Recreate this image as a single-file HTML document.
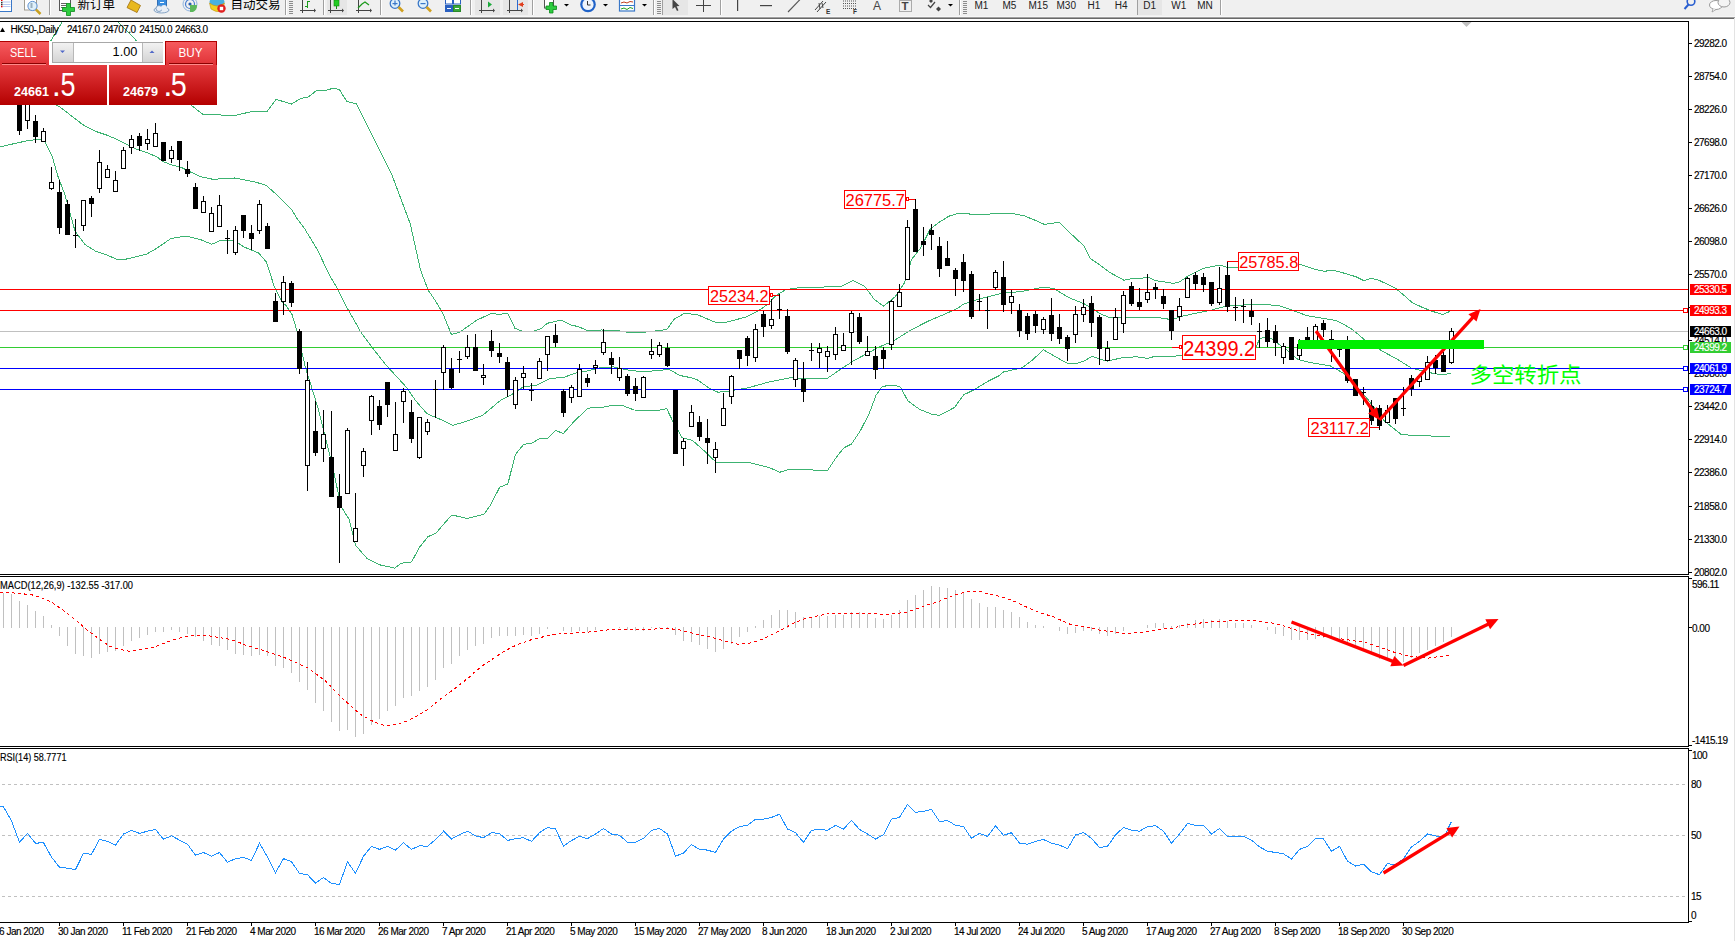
<!DOCTYPE html><html><head><meta charset="utf-8"><title>HK50 Daily</title><style>
html,body{margin:0;padding:0;background:#fff;overflow:hidden}
body{width:1735px;height:941px;position:relative;font-family:'Liberation Sans', 'DejaVu Sans', sans-serif}
.abs{position:absolute}
#tb{left:0;top:0;width:1735px;height:16px;background:#f0f0f0;overflow:hidden}
svg{font-family:'Liberation Sans', 'DejaVu Sans', sans-serif}

</style></head><body>
<div id="tb" class="abs"><svg width="1735" height="16" viewBox="0 0 1735 16" style="position:absolute;left:0;top:0"><rect x="49" y="0" width="1" height="15" fill="#a0a0a0"/><rect x="50" y="0" width="1" height="15" fill="#fff"/>
<rect x="285" y="0" width="1" height="15" fill="#a0a0a0"/><rect x="286" y="0" width="1" height="15" fill="#fff"/>
<rect x="323" y="0" width="1" height="15" fill="#a0a0a0"/><rect x="324" y="0" width="1" height="15" fill="#fff"/>
<rect x="380" y="0" width="1" height="15" fill="#a0a0a0"/><rect x="381" y="0" width="1" height="15" fill="#fff"/>
<rect x="470" y="0" width="1" height="15" fill="#a0a0a0"/><rect x="471" y="0" width="1" height="15" fill="#fff"/>
<rect x="532" y="0" width="1" height="15" fill="#a0a0a0"/><rect x="533" y="0" width="1" height="15" fill="#fff"/>
<rect x="653" y="0" width="1" height="15" fill="#a0a0a0"/><rect x="654" y="0" width="1" height="15" fill="#fff"/>
<rect x="662" y="0" width="1" height="15" fill="#a0a0a0"/><rect x="663" y="0" width="1" height="15" fill="#fff"/>
<rect x="720" y="0" width="1" height="15" fill="#a0a0a0"/><rect x="721" y="0" width="1" height="15" fill="#fff"/>
<rect x="959" y="0" width="1" height="15" fill="#a0a0a0"/><rect x="960" y="0" width="1" height="15" fill="#fff"/>
<rect x="1220" y="0" width="1" height="15" fill="#a0a0a0"/><rect x="1221" y="0" width="1" height="15" fill="#fff"/>
<rect x="289" y="1" width="4" height="1" fill="#8c8c8c"/>
<rect x="289" y="3" width="4" height="1" fill="#8c8c8c"/>
<rect x="289" y="5" width="4" height="1" fill="#8c8c8c"/>
<rect x="289" y="7" width="4" height="1" fill="#8c8c8c"/>
<rect x="289" y="9" width="4" height="1" fill="#8c8c8c"/>
<rect x="289" y="11" width="4" height="1" fill="#8c8c8c"/>
<rect x="289" y="13" width="4" height="1" fill="#8c8c8c"/>
<rect x="657" y="1" width="4" height="1" fill="#8c8c8c"/>
<rect x="657" y="3" width="4" height="1" fill="#8c8c8c"/>
<rect x="657" y="5" width="4" height="1" fill="#8c8c8c"/>
<rect x="657" y="7" width="4" height="1" fill="#8c8c8c"/>
<rect x="657" y="9" width="4" height="1" fill="#8c8c8c"/>
<rect x="657" y="11" width="4" height="1" fill="#8c8c8c"/>
<rect x="657" y="13" width="4" height="1" fill="#8c8c8c"/>
<rect x="963" y="1" width="4" height="1" fill="#8c8c8c"/>
<rect x="963" y="3" width="4" height="1" fill="#8c8c8c"/>
<rect x="963" y="5" width="4" height="1" fill="#8c8c8c"/>
<rect x="963" y="7" width="4" height="1" fill="#8c8c8c"/>
<rect x="963" y="9" width="4" height="1" fill="#8c8c8c"/>
<rect x="963" y="11" width="4" height="1" fill="#8c8c8c"/>
<rect x="963" y="13" width="4" height="1" fill="#8c8c8c"/>
<rect x="327" y="0" width="20" height="15" fill="#e6e6e6"/>
<rect x="475" y="0" width="25" height="15" fill="#e6e6e6"/>
<rect x="503" y="0" width="25" height="15" fill="#e6e6e6"/>
<rect x="663" y="0" width="25" height="15" fill="#e6e6e6"/>
<rect x="1138" y="0" width="24" height="15" fill="#e6e6e6"/>
<rect x="-2" y="-3" width="13.5" height="14.5" fill="#fff" stroke="#3a78c8" stroke-width="1"/>
<rect x="2.5" y="1.5" width="8" height="1" fill="#b8c8f0"/>
<rect x="2.5" y="4.0" width="8" height="1" fill="#b8c8f0"/>
<rect x="2.5" y="6.0" width="8" height="1" fill="#b8c8f0"/>
<rect x="1" y="-0.5" width="1.5" height="1.5" fill="#e00"/><rect x="1" y="1.8" width="1.5" height="1.5" fill="#333"/><rect x="1" y="3.8" width="1.5" height="1.5" fill="#333"/><rect x="1" y="5.8" width="1.5" height="1.5" fill="#e00"/>
<rect x="24.5" y="-3" width="12" height="13" fill="#fff" stroke="#a09c90" stroke-width="1"/>
<circle cx="32.5" cy="6" r="4.6" fill="#dff0fa" stroke="#5b8fd0" stroke-width="1"/>
<rect x="30.5" y="3" width="2" height="5" fill="#9ab0c0"/>
<line x1="36" y1="9.6" x2="40.5" y2="14" stroke="#c8a020" stroke-width="2.5"/>
<rect x="59.5" y="-3" width="11" height="13.5" fill="#fff" stroke="#555" stroke-width="1"/>
<rect x="61" y="3" width="6" height="1" fill="#666"/><rect x="61" y="5" width="5" height="1" fill="#666"/><rect x="61" y="7" width="4" height="1" fill="#666"/>
<path d="M66.5,3.5h4v4h4v4h-4v4h-4v-4h-4v-4h4z" fill="#2ecc40" stroke="#0a8a1a" stroke-width="0.8"/>
<text x="77.5" y="9.3" font-size="12.5" fill="#000" font-family="'Liberation Sans', 'Noto Sans CJK SC', sans-serif">新订单</text>
<path d="M131,0 L140.5,5.5 L137,12.5 L127,7.5 Z" fill="#e8b820" stroke="#a07010" stroke-width="0.8"/>
<path d="M127,7.5 L137,12.5 L138.5,13 L128,8.5z" fill="#c89010"/>
<rect x="157.5" y="-3" width="9" height="11" fill="#3a8ee0" stroke="#1a5aa8" stroke-width="0.8"/>
<rect x="160" y="2" width="4" height="1" fill="#fff"/>
<ellipse cx="161.5" cy="10" rx="7.5" ry="3" fill="#e8eef6" stroke="#6b8fb8" stroke-width="0.8"/>
<circle cx="159" cy="8.5" r="3" fill="#e8eef6" stroke="#6b8fb8" stroke-width="0.8"/><circle cx="164" cy="8" r="3" fill="#e8eef6"/>
<circle cx="190" cy="4" r="7" fill="none" stroke="#8fb4e0" stroke-width="1"/>
<circle cx="190" cy="4" r="4.5" fill="none" stroke="#4a7fd0" stroke-width="1.2"/>
<circle cx="190" cy="4" r="1.6" fill="#2a5fb0"/>
<path d="M190,5 L190,12 L193,12 A7,7 0 0 0 197,5 Z" fill="#5cb85c"/>
<ellipse cx="217" cy="2" rx="7.5" ry="5" fill="#4ab0e0"/>
<path d="M209.5,3 Q217,9 224.5,3 L222,11 Q216,13 211,9 Z" fill="#f0d020" stroke="#c09010" stroke-width="0.6"/>
<circle cx="221.5" cy="8.5" r="4.2" fill="#e02020"/><rect x="219.8" y="6.8" width="3.4" height="3.4" fill="#fff"/>
<text x="230.5" y="9.3" font-size="12.5" fill="#000" font-family="'Liberation Sans', 'Noto Sans CJK SC', sans-serif">自动交易</text>
<rect x="302" y="0" width="1" height="13" fill="#444"/><rect x="300" y="10" width="14" height="1" fill="#444"/><polygon points="314,8.5 314,12.5 316,10.5" fill="#444"/>
<rect x="307" y="1" width="1" height="7" fill="#1a9a1a"/><rect x="308" y="1" width="2" height="1" fill="#1a9a1a"/><rect x="305" y="6" width="2" height="1" fill="#1a9a1a"/>
<rect x="330" y="0" width="1" height="13" fill="#444"/><rect x="328" y="10" width="14" height="1" fill="#444"/><polygon points="342,8.5 342,12.5 344,10.5" fill="#444"/>
<rect x="334" y="0" width="5" height="6" fill="#22cc22" stroke="#118811" stroke-width="0.6"/><rect x="336" y="6" width="1" height="3" fill="#118811"/>
<rect x="358" y="0" width="1" height="13" fill="#444"/><rect x="356" y="10" width="14" height="1" fill="#444"/><polygon points="370,8.5 370,12.5 372,10.5" fill="#444"/>
<polyline points="358,8 362,4 365,2 369,5" fill="none" stroke="#1a9a1a" stroke-width="1.2"/>
<circle cx="395" cy="3.5" r="4.8" fill="#dff0fa" stroke="#3a78c8" stroke-width="1.3"/>
<line x1="398.5" y1="7" x2="403" y2="11.5" stroke="#d0a020" stroke-width="2.6"/>
<rect x="392.5" y="3" width="5" height="1.2" fill="#3a78c8"/>
<rect x="394.4" y="0.5" width="1.2" height="5" fill="#3a78c8"/>
<circle cx="423" cy="3.5" r="4.8" fill="#dff0fa" stroke="#3a78c8" stroke-width="1.3"/>
<line x1="426.5" y1="7" x2="431" y2="11.5" stroke="#d0a020" stroke-width="2.6"/>
<rect x="420.5" y="3" width="5" height="1.2" fill="#3a78c8"/>
<rect x="445.5" y="-2" width="7" height="6" fill="#fff" stroke="#2a60c0"/><rect x="453.5" y="-2" width="7" height="6" fill="#fff" stroke="#2a60c0"/>
<rect x="445.5" y="5.5" width="7" height="6" fill="#2a60c0" stroke="#2a60c0"/><rect x="453.5" y="5.5" width="7" height="6" fill="#3aa83a" stroke="#2a8a2a"/>
<rect x="447" y="8" width="4" height="1" fill="#fff"/><rect x="455" y="8" width="4" height="1" fill="#fff"/>
<rect x="481" y="0" width="1" height="13" fill="#444"/><rect x="479" y="10" width="14" height="1" fill="#444"/><polygon points="493,8.5 493,12.5 495,10.5" fill="#444"/>
<polygon points="488,1.5 488,7.5 492,4.5" fill="#1aaa3a"/>
<rect x="509" y="0" width="1" height="13" fill="#444"/><rect x="507" y="10" width="14" height="1" fill="#444"/><polygon points="521,8.5 521,12.5 523,10.5" fill="#444"/>
<rect x="517" y="0" width="1" height="10" fill="#2a6ad0"/><polygon points="518,4.5 523,2 523,7" fill="#e04020"/><rect x="520" y="4" width="4" height="1" fill="#e04020"/>
<rect x="544.5" y="-3" width="9" height="11" fill="#fff" stroke="#555" stroke-width="1"/>
<path d="M549.5,2.5h3.5v3.5h3.5v3.5h-3.5v3.5h-3.5v-3.5h-3.5v-3.5h3.5z" fill="#2ecc40" stroke="#0a8a1a" stroke-width="0.8"/>
<polygon points="564.0,4 569.0,4 566.5,6.5" fill="#000"/>
<polygon points="603.0,4 608.0,4 605.5,6.5" fill="#000"/>
<polygon points="642.0,4 647.0,4 644.5,6.5" fill="#000"/>
<polygon points="948.0,4 953.0,4 950.5,6.5" fill="#000"/>
<circle cx="588" cy="4.5" r="7.8" fill="#1f62c8"/><circle cx="588" cy="4.5" r="5.6" fill="#eef4fc"/><polyline points="587.5,1 587.5,5 590.5,5" fill="none" stroke="#333" stroke-width="1"/>
<rect x="619.5" y="-2" width="15" height="13" fill="#fff" stroke="#3a78c8" stroke-width="1.2"/><rect x="620" y="5" width="14" height="1" fill="#3a78c8"/>
<polyline points="621,3 624,2 627,3 630,1.5 633,2" fill="none" stroke="#c04020" stroke-width="1"/>
<polyline points="621,9 624,8 627,9.5 630,7.5 633,8.5" fill="none" stroke="#20a020" stroke-width="1"/>
<path d="M672.5,-1 L672.5,9 L675,7 L677,11 L678.5,10.2 L676.6,6.3 L679.5,6 Z" fill="#444"/>
<rect x="696" y="5" width="15" height="1" fill="#444"/><rect x="703" y="-1" width="1" height="13" fill="#444"/>
<rect x="737" y="-1" width="1.2" height="12" fill="#444"/>
<rect x="760" y="5" width="12" height="1.2" fill="#444"/>
<line x1="788" y1="12" x2="800.5" y2="-1" stroke="#555" stroke-width="1.1"/>
<g stroke="#444" stroke-width="1"><line x1="815" y1="10" x2="823" y2="1"/><line x1="817" y1="12" x2="826" y2="2"/><line x1="819" y1="3" x2="820" y2="9"/><line x1="822" y1="3" x2="823" y2="8"/></g>
<text x="826" y="13.5" font-size="6.5" font-weight="bold" fill="#333" font-family="'Liberation Sans', sans-serif">E</text>
<line x1="843" y1="1" x2="856" y2="1" stroke="#555" stroke-width="1" stroke-dasharray="1,1"/>
<line x1="843" y1="3.5" x2="856" y2="3.5" stroke="#555" stroke-width="1" stroke-dasharray="1,1"/>
<line x1="843" y1="6" x2="856" y2="6" stroke="#555" stroke-width="1" stroke-dasharray="1,1"/>
<line x1="843" y1="8.5" x2="856" y2="8.5" stroke="#555" stroke-width="1" stroke-dasharray="1,1"/>
<text x="853" y="13.5" font-size="6.5" font-weight="bold" fill="#333" font-family="'Liberation Sans', sans-serif">F</text>
<text x="873" y="10" font-size="12" fill="#444" font-family="'Liberation Sans', sans-serif">A</text>
<rect x="899.5" y="0.5" width="12" height="11" fill="none" stroke="#666" stroke-width="1" stroke-dasharray="1,1"/>
<text x="901.5" y="10" font-size="11.5" font-weight="bold" fill="#444" font-family="'Liberation Sans', sans-serif">T</text>
<path d="M929,1 L931,-1 L933,1 L931,3 Z" fill="#444"/><polyline points="928,5 930.5,7.5 935,2" fill="none" stroke="#444" stroke-width="1.2"/><path d="M936,9 L938.5,6.5 L941,9 L938.5,11.5 Z" fill="#444"/>
<text x="974.5" y="9" font-size="10" fill="#222" font-family="'Liberation Sans', sans-serif">M1</text>
<text x="1002.5" y="9" font-size="10" fill="#222" font-family="'Liberation Sans', sans-serif">M5</text>
<text x="1028.5" y="9" font-size="10" fill="#222" font-family="'Liberation Sans', sans-serif">M15</text>
<text x="1056.5" y="9" font-size="10" fill="#222" font-family="'Liberation Sans', sans-serif">M30</text>
<text x="1087.5" y="9" font-size="10" fill="#222" font-family="'Liberation Sans', sans-serif">H1</text>
<text x="1114.8" y="9" font-size="10" fill="#222" font-family="'Liberation Sans', sans-serif">H4</text>
<text x="1143.3" y="9" font-size="10" fill="#222" font-family="'Liberation Sans', sans-serif">D1</text>
<text x="1171.2" y="9" font-size="10" fill="#222" font-family="'Liberation Sans', sans-serif">W1</text>
<text x="1197.2" y="9" font-size="10" fill="#222" font-family="'Liberation Sans', sans-serif">MN</text>
<rect x="1137" y="0" width="1" height="15" fill="#a0a0a0"/>
<circle cx="1691" cy="1.5" r="3.8" fill="none" stroke="#2a5fd0" stroke-width="1.6"/><line x1="1688.5" y1="4.5" x2="1684.5" y2="9" stroke="#2a5fd0" stroke-width="2"/>
<ellipse cx="1716" cy="5" rx="6.5" ry="4.5" fill="#fff" stroke="#999" stroke-width="1"/><ellipse cx="1724" cy="2.5" rx="6" ry="4.5" fill="#f4f4f4" stroke="#999" stroke-width="1"/><path d="M1713,9 L1712,12 L1716,9.5" fill="#fff" stroke="#999" stroke-width="0.8"/></svg></div>
<div class="abs" style="left:0;top:16px;width:1735px;height:1px;background:#f7f7f7"></div>
<div class="abs" style="left:0;top:17px;width:1735px;height:1px;background:#a0a0a0"></div>
<div class="abs" style="left:0;top:18px;width:1735px;height:1px;background:#696969"></div>
<svg class="abs" style="left:0;top:0" width="1735" height="941" viewBox="0 0 1735 941">
<defs>
<clipPath id="cm"><rect x="0" y="22" width="1688" height="552"/></clipPath>
<clipPath id="cd"><rect x="0" y="577" width="1688" height="169"/></clipPath>
<clipPath id="cr"><rect x="0" y="749" width="1688" height="173"/></clipPath>
</defs>
<g fill="#000" shape-rendering="crispEdges">
<rect x="0" y="21" width="1689" height="1"/>
<rect x="1688" y="21" width="1" height="554"/>
<rect x="0" y="574" width="1689" height="1"/>
<rect x="0" y="576" width="1689" height="1"/>
<rect x="1688" y="576" width="1" height="171"/>
<rect x="0" y="746" width="1689" height="1"/>
<rect x="0" y="748" width="1689" height="1"/>
<rect x="1688" y="748" width="1" height="175"/>
<rect x="0" y="922" width="1689" height="1"/>
</g>
<rect x="1734" y="18" width="1" height="923" fill="#e3e3e3"/>
<polygon points="1461.5,22 1471.5,22 1466.5,27" fill="#c0c0c0"/>
<g clip-path="url(#cm)">
<g fill="none" stroke="#3cb371" stroke-width="1" shape-rendering="crispEdges">
<polyline points="0.0,95.0 30.0,70.0 45.0,50.0 52.0,39.0 62.0,22.0 70.0,8.0 110.0,8.0 118.0,22.0 135.0,39.0 160.0,75.0 185.0,100.0 193.8,107.3 202.8,114.2 216.0,114.8 234.5,115.5 251.2,111.7 266.8,111.8 276.1,99.4 291.5,104.0 300.7,98.5 308.4,97.0 316.1,90.8 323.8,90.8 333.1,88.3 339.2,89.3 346.9,101.6 356.2,103.7 373.1,137.0 391.6,174.0 410.1,223.3 420.5,270.0 428.1,290.0 436.2,302.1 442.3,312.2 451.4,334.4 459.4,332.4 466.5,327.4 476.6,320.3 490.7,313.6 498.8,314.2 507.9,313.6 515.0,328.4 523.1,331.4 533.2,331.4 541.3,328.4 547.3,323.3 556.0,321.3 561.5,320.1 571.0,324.9 578.7,326.8 588.2,331.0 601.6,330.0 616.9,330.6 626.5,332.1 645.6,332.1 666.7,329.6 674.3,319.1 684.0,313.5 696.7,314.4 715.9,322.5 726.5,322.1 745.6,317.2 758.4,310.8 769.0,303.4 775.4,295.9 786.0,289.6 800.8,287.4 818.0,287.5 832.0,286.3 841.4,286.3 853.1,280.5 864.7,286.3 874.1,299.2 883.4,306.2 895.1,296.8 904.5,282.8 911.5,259.5 920.8,247.8 930.2,229.1 939.5,222.1 948.9,216.2 958.0,213.3 984.0,214.9 994.6,213.2 1013.7,213.8 1024.4,215.9 1035.0,220.2 1044.5,224.4 1059.4,222.3 1069.0,231.9 1084.0,246.0 1090.4,258.7 1100.0,265.1 1109.5,272.3 1123.9,280.2 1131.8,278.6 1139.8,278.6 1147.8,277.0 1155.8,280.7 1163.7,281.8 1173.3,283.4 1179.7,281.8 1187.7,276.2 1203.6,268.3 1219.5,265.1 1227.0,267.2 1238.9,267.2 1266.2,271.0 1299.0,264.1 1315.5,269.4 1324.4,271.4 1330.7,270.2 1337.1,271.1 1348.5,274.5 1356.1,276.8 1363.7,280.6 1371.3,278.3 1378.9,280.3 1387.8,284.4 1395.4,288.2 1401.7,293.3 1411.9,302.4 1422.0,307.2 1432.2,311.3 1443.0,314.6 1449.9,311.3"/>
<polyline points="40.0,95.0 60.2,107.2 83.0,124.8 96.0,131.5 106.2,134.9 116.4,139.1 126.6,144.2 136.8,149.3 147.0,152.7 157.2,157.0 162.3,161.2 170.8,164.6 181.0,167.2 191.2,172.3 200.2,176.7 213.0,179.3 234.5,178.0 256.3,182.3 266.5,185.6 277.6,195.6 292.0,209.9 296.1,217.1 304.8,229.0 317.5,250.0 330.0,276.2 337.9,289.4 347.6,308.9 351.6,315.7 360.5,331.6 372.5,348.0 386.5,365.6 405.9,386.7 416.0,401.1 426.0,412.6 428.1,414.2 440.2,419.3 452.4,425.4 466.5,421.3 482.7,415.3 500.8,400.1 511.0,395.0 523.1,387.0 537.2,385.0 550.0,378.4 563.4,377.5 576.8,372.7 588.2,370.8 599.7,367.9 613.1,366.9 626.5,369.8 641.8,371.7 660.9,370.4 668.6,369.2 680.0,375.5 690.0,377.5 696.7,379.4 709.5,388.3 718.0,392.2 726.5,391.5 747.7,387.9 769.0,382.0 790.2,377.7 803.0,378.2 815.7,378.8 827.6,378.2 838.7,370.6 853.1,361.1 864.7,354.8 878.8,347.1 892.8,341.3 911.5,329.6 930.2,320.2 944.2,314.4 958.0,308.1 962.7,304.5 979.7,298.8 1001.0,293.5 1022.2,291.4 1035.0,288.8 1044.5,287.1 1054.1,288.8 1069.0,297.7 1084.0,303.7 1093.6,309.4 1101.5,314.5 1109.5,317.4 1123.9,318.0 1144.6,317.4 1160.5,318.0 1171.7,319.6 1182.9,316.1 1195.6,313.2 1211.6,310.0 1227.0,306.0 1244.0,305.0 1257.6,304.3 1271.3,305.0 1280.0,306.0 1292.7,310.4 1306.6,315.5 1320.6,318.0 1335.8,320.5 1343.4,324.3 1352.3,329.4 1364.0,339.3 1381.0,350.4 1398.0,359.7 1411.6,368.2 1428.7,372.5 1442.3,375.0 1450.8,373.3"/>
<polyline points="0.0,146.8 27.0,140.8 40.0,139.0 44.0,140.0 52.0,156.0 58.0,176.5 65.0,195.0 75.0,231.0 85.0,244.6 96.0,251.4 106.2,254.8 116.4,259.0 126.6,259.0 136.8,256.5 147.0,253.9 157.2,248.0 170.8,238.6 186.1,236.0 201.5,240.0 211.7,244.3 220.6,240.5 234.6,240.5 243.6,246.8 258.9,253.2 266.5,262.2 274.2,286.4 281.8,301.7 286.0,305.6 292.0,314.4 295.7,326.7 305.4,367.2 318.4,409.4 331.4,461.2 341.1,506.6 349.2,519.5 355.7,545.5 367.0,558.4 380.0,564.9 394.6,568.1 401.0,563.3 411.5,562.0 419.8,546.9 428.0,536.7 436.2,532.9 451.1,515.6 456.0,515.9 467.6,518.5 484.0,514.2 490.6,504.9 499.7,487.2 507.9,483.9 515.3,454.6 523.6,444.4 531.8,443.1 540.1,438.5 547.5,438.5 555.7,430.6 563.4,433.5 574.9,420.5 588.2,408.1 603.5,407.1 613.1,405.2 622.7,405.6 634.1,410.0 657.1,410.5 666.7,408.6 672.4,420.5 682.0,437.7 692.5,440.4 705.2,451.7 715.9,462.1 747.7,462.3 769.0,467.4 779.6,472.3 790.2,469.1 820.0,470.3 827.6,470.3 836.4,457.1 844.0,447.7 851.6,443.9 860.3,430.8 869.1,413.8 876.1,395.1 881.9,387.0 887.8,385.4 895.4,385.4 900.6,387.3 907.7,400.6 919.3,409.2 932.2,414.4 939.2,415.3 954.4,407.6 963.8,394.8 974.3,389.6 988.3,381.1 1000.0,375.3 1003.1,372.1 1022.2,367.8 1030.7,361.5 1043.5,349.8 1056.2,357.2 1067.9,363.6 1077.5,363.2 1084.0,361.1 1092.0,356.3 1100.0,359.2 1107.9,361.1 1122.3,357.6 1136.6,356.8 1147.8,358.4 1155.8,356.0 1170.1,356.8 1182.9,355.2 1220.0,351.0 1256.0,347.2 1259.3,339.5 1264.4,337.0 1271.3,338.7 1278.1,343.8 1286.6,349.7 1298.0,359.5 1313.0,363.1 1330.0,365.7 1343.6,373.3 1353.8,383.5 1367.4,398.8 1384.4,421.0 1401.4,434.6 1423.6,435.9 1449.9,436.3"/>
</g>
<g shape-rendering="crispEdges">
<rect x="0" y="289" width="1688" height="1" fill="#ff0000"/>
<rect x="0" y="310" width="1688" height="1" fill="#ff0000"/>
<rect x="0" y="331" width="1688" height="1" fill="#c0c0c0"/>
<rect x="0" y="347" width="1688" height="1" fill="#32cd32"/>
<rect x="0" y="368" width="1688" height="1" fill="#0000ff"/>
<rect x="0" y="389" width="1688" height="1" fill="#0000ff"/>
<rect x="1683.5" y="308.5" width="4" height="4" fill="#fff" stroke="#ff0000" stroke-width="1"/>
<rect x="1683.5" y="345.5" width="4" height="4" fill="#fff" stroke="#32cd32" stroke-width="1"/>
<rect x="1683.5" y="366.5" width="4" height="4" fill="#fff" stroke="#0000ff" stroke-width="1"/>
<rect x="1683.5" y="387.5" width="4" height="4" fill="#fff" stroke="#0000ff" stroke-width="1"/>
</g>
<g fill="#000" shape-rendering="crispEdges">
<rect x="3" y="60" width="1" height="26"/>
<rect x="1" y="62" width="5" height="19"/>
<rect x="11" y="70" width="1" height="5"/>
<rect x="11" y="101" width="1" height="4"/>
<rect x="9" y="75" width="5" height="26"/>
<rect x="10" y="76" width="3" height="24" fill="#fff"/>
<rect x="19" y="100" width="1" height="35"/>
<rect x="17" y="101" width="5" height="30"/>
<rect x="27" y="100" width="1" height="1"/>
<rect x="27" y="121" width="1" height="8"/>
<rect x="25" y="101" width="5" height="20"/>
<rect x="26" y="102" width="3" height="18" fill="#fff"/>
<rect x="35" y="115" width="1" height="28"/>
<rect x="33" y="121" width="5" height="16"/>
<rect x="43" y="128" width="1" height="3"/>
<rect x="41" y="131" width="5" height="11"/>
<rect x="42" y="132" width="3" height="9" fill="#fff"/>
<rect x="51" y="167" width="1" height="15"/>
<rect x="51" y="189" width="1" height="1"/>
<rect x="49" y="182" width="5" height="7"/>
<rect x="50" y="183" width="3" height="5" fill="#fff"/>
<rect x="59" y="180" width="1" height="54"/>
<rect x="57" y="192" width="5" height="36"/>
<rect x="67" y="200" width="1" height="35"/>
<rect x="65" y="204" width="5" height="31"/>
<rect x="75" y="219" width="1" height="29"/>
<rect x="73" y="235" width="5" height="1"/>
<rect x="83" y="226" width="1" height="5"/>
<rect x="81" y="200" width="5" height="26"/>
<rect x="82" y="201" width="3" height="24" fill="#fff"/>
<rect x="91" y="196" width="1" height="21"/>
<rect x="89" y="198" width="5" height="6"/>
<rect x="99" y="150" width="1" height="12"/>
<rect x="99" y="189" width="1" height="4"/>
<rect x="97" y="162" width="5" height="27"/>
<rect x="98" y="163" width="3" height="25" fill="#fff"/>
<rect x="107" y="165" width="1" height="4"/>
<rect x="105" y="169" width="5" height="9"/>
<rect x="106" y="170" width="3" height="7" fill="#fff"/>
<rect x="115" y="171" width="1" height="9"/>
<rect x="113" y="180" width="5" height="12"/>
<rect x="114" y="181" width="3" height="10" fill="#fff"/>
<rect x="123" y="147" width="1" height="3"/>
<rect x="121" y="150" width="5" height="19"/>
<rect x="122" y="151" width="3" height="17" fill="#fff"/>
<rect x="131" y="135" width="1" height="4"/>
<rect x="131" y="148" width="1" height="6"/>
<rect x="129" y="139" width="5" height="9"/>
<rect x="130" y="140" width="3" height="7" fill="#fff"/>
<rect x="139" y="133" width="1" height="18"/>
<rect x="137" y="136" width="5" height="10"/>
<rect x="147" y="129" width="1" height="10"/>
<rect x="147" y="144" width="1" height="6"/>
<rect x="145" y="139" width="5" height="5"/>
<rect x="146" y="140" width="3" height="3" fill="#fff"/>
<rect x="155" y="123" width="1" height="10"/>
<rect x="153" y="133" width="5" height="14"/>
<rect x="154" y="134" width="3" height="12" fill="#fff"/>
<rect x="163" y="142" width="1" height="19"/>
<rect x="161" y="142" width="5" height="19"/>
<rect x="171" y="146" width="1" height="4"/>
<rect x="171" y="159" width="1" height="4"/>
<rect x="169" y="150" width="5" height="9"/>
<rect x="170" y="151" width="3" height="7" fill="#fff"/>
<rect x="179" y="141" width="1" height="30"/>
<rect x="177" y="141" width="5" height="19"/>
<rect x="187" y="161" width="1" height="16"/>
<rect x="185" y="169" width="5" height="5"/>
<rect x="195" y="183" width="1" height="26"/>
<rect x="193" y="187" width="5" height="22"/>
<rect x="203" y="196" width="1" height="5"/>
<rect x="201" y="201" width="5" height="12"/>
<rect x="202" y="202" width="3" height="10" fill="#fff"/>
<rect x="211" y="207" width="1" height="6"/>
<rect x="209" y="213" width="5" height="19"/>
<rect x="210" y="214" width="3" height="17" fill="#fff"/>
<rect x="219" y="195" width="1" height="10"/>
<rect x="217" y="205" width="5" height="22"/>
<rect x="218" y="206" width="3" height="20" fill="#fff"/>
<rect x="227" y="230" width="1" height="24"/>
<rect x="225" y="238" width="5" height="1"/>
<rect x="235" y="226" width="1" height="4"/>
<rect x="235" y="253" width="1" height="2"/>
<rect x="233" y="230" width="5" height="23"/>
<rect x="234" y="231" width="3" height="21" fill="#fff"/>
<rect x="243" y="215" width="1" height="23"/>
<rect x="241" y="215" width="5" height="16"/>
<rect x="251" y="225" width="1" height="25"/>
<rect x="249" y="233" width="5" height="6"/>
<rect x="259" y="200" width="1" height="4"/>
<rect x="259" y="231" width="1" height="3"/>
<rect x="257" y="204" width="5" height="27"/>
<rect x="258" y="205" width="3" height="25" fill="#fff"/>
<rect x="267" y="223" width="1" height="26"/>
<rect x="265" y="226" width="5" height="23"/>
<rect x="275" y="293" width="1" height="29"/>
<rect x="273" y="301" width="5" height="21"/>
<rect x="283" y="276" width="1" height="6"/>
<rect x="283" y="302" width="1" height="13"/>
<rect x="281" y="282" width="5" height="20"/>
<rect x="282" y="283" width="3" height="18" fill="#fff"/>
<rect x="291" y="281" width="1" height="26"/>
<rect x="289" y="283" width="5" height="20"/>
<rect x="299" y="329" width="1" height="45"/>
<rect x="297" y="331" width="5" height="38"/>
<rect x="307" y="362" width="1" height="18"/>
<rect x="307" y="466" width="1" height="25"/>
<rect x="305" y="380" width="5" height="86"/>
<rect x="306" y="381" width="3" height="84" fill="#fff"/>
<rect x="315" y="401" width="1" height="55"/>
<rect x="313" y="431" width="5" height="22"/>
<rect x="323" y="410" width="1" height="24"/>
<rect x="323" y="449" width="1" height="13"/>
<rect x="321" y="434" width="5" height="15"/>
<rect x="322" y="435" width="3" height="13" fill="#fff"/>
<rect x="331" y="411" width="1" height="86"/>
<rect x="329" y="457" width="5" height="40"/>
<rect x="339" y="474" width="1" height="89"/>
<rect x="337" y="496" width="5" height="12"/>
<rect x="347" y="428" width="1" height="2"/>
<rect x="345" y="430" width="5" height="64"/>
<rect x="346" y="431" width="3" height="62" fill="#fff"/>
<rect x="355" y="493" width="1" height="35"/>
<rect x="353" y="528" width="5" height="14"/>
<rect x="354" y="529" width="3" height="12" fill="#fff"/>
<rect x="363" y="448" width="1" height="3"/>
<rect x="363" y="466" width="1" height="11"/>
<rect x="361" y="451" width="5" height="15"/>
<rect x="362" y="452" width="3" height="13" fill="#fff"/>
<rect x="371" y="395" width="1" height="1"/>
<rect x="371" y="421" width="1" height="14"/>
<rect x="369" y="396" width="5" height="25"/>
<rect x="370" y="397" width="3" height="23" fill="#fff"/>
<rect x="379" y="400" width="1" height="30"/>
<rect x="377" y="406" width="5" height="19"/>
<rect x="387" y="382" width="1" height="35"/>
<rect x="385" y="382" width="5" height="23"/>
<rect x="395" y="402" width="1" height="32"/>
<rect x="393" y="434" width="5" height="17"/>
<rect x="394" y="435" width="3" height="15" fill="#fff"/>
<rect x="403" y="388" width="1" height="3"/>
<rect x="403" y="402" width="1" height="21"/>
<rect x="401" y="391" width="5" height="11"/>
<rect x="402" y="392" width="3" height="9" fill="#fff"/>
<rect x="411" y="400" width="1" height="43"/>
<rect x="409" y="412" width="5" height="27"/>
<rect x="419" y="458" width="1" height="1"/>
<rect x="417" y="417" width="5" height="41"/>
<rect x="418" y="418" width="3" height="39" fill="#fff"/>
<rect x="427" y="419" width="1" height="3"/>
<rect x="427" y="432" width="1" height="3"/>
<rect x="425" y="422" width="5" height="10"/>
<rect x="426" y="423" width="3" height="8" fill="#fff"/>
<rect x="435" y="380" width="1" height="38"/>
<rect x="433" y="389" width="5" height="1"/>
<rect x="443" y="345" width="1" height="2"/>
<rect x="443" y="373" width="1" height="17"/>
<rect x="441" y="347" width="5" height="26"/>
<rect x="442" y="348" width="3" height="24" fill="#fff"/>
<rect x="451" y="358" width="1" height="31"/>
<rect x="449" y="369" width="5" height="19"/>
<rect x="459" y="351" width="1" height="22"/>
<rect x="457" y="359" width="5" height="1"/>
<rect x="467" y="335" width="1" height="12"/>
<rect x="467" y="357" width="1" height="2"/>
<rect x="465" y="347" width="5" height="10"/>
<rect x="466" y="348" width="3" height="8" fill="#fff"/>
<rect x="475" y="334" width="1" height="37"/>
<rect x="473" y="347" width="5" height="24"/>
<rect x="483" y="364" width="1" height="11"/>
<rect x="483" y="378" width="1" height="7"/>
<rect x="481" y="375" width="5" height="3"/>
<rect x="482" y="376" width="3" height="1" fill="#fff"/>
<rect x="491" y="330" width="1" height="27"/>
<rect x="489" y="341" width="5" height="10"/>
<rect x="499" y="343" width="1" height="20"/>
<rect x="497" y="353" width="5" height="4"/>
<rect x="507" y="357" width="1" height="40"/>
<rect x="505" y="362" width="5" height="28"/>
<rect x="515" y="377" width="1" height="3"/>
<rect x="515" y="405" width="1" height="4"/>
<rect x="513" y="380" width="5" height="25"/>
<rect x="514" y="381" width="3" height="23" fill="#fff"/>
<rect x="523" y="366" width="1" height="7"/>
<rect x="523" y="378" width="1" height="11"/>
<rect x="521" y="373" width="5" height="5"/>
<rect x="522" y="374" width="3" height="3" fill="#fff"/>
<rect x="531" y="383" width="1" height="18"/>
<rect x="529" y="390" width="5" height="1"/>
<rect x="539" y="358" width="1" height="3"/>
<rect x="537" y="361" width="5" height="18"/>
<rect x="538" y="362" width="3" height="16" fill="#fff"/>
<rect x="547" y="355" width="1" height="16"/>
<rect x="545" y="336" width="5" height="19"/>
<rect x="546" y="337" width="3" height="17" fill="#fff"/>
<rect x="555" y="324" width="1" height="23"/>
<rect x="553" y="335" width="5" height="8"/>
<rect x="563" y="389" width="1" height="28"/>
<rect x="561" y="391" width="5" height="22"/>
<rect x="571" y="385" width="1" height="2"/>
<rect x="571" y="398" width="1" height="5"/>
<rect x="569" y="387" width="5" height="11"/>
<rect x="570" y="388" width="3" height="9" fill="#fff"/>
<rect x="579" y="364" width="1" height="5"/>
<rect x="577" y="369" width="5" height="28"/>
<rect x="578" y="370" width="3" height="26" fill="#fff"/>
<rect x="587" y="374" width="1" height="13"/>
<rect x="585" y="378" width="5" height="5"/>
<rect x="595" y="360" width="1" height="5"/>
<rect x="595" y="368" width="1" height="6"/>
<rect x="593" y="365" width="5" height="3"/>
<rect x="594" y="366" width="3" height="1" fill="#fff"/>
<rect x="603" y="329" width="1" height="13"/>
<rect x="603" y="353" width="1" height="2"/>
<rect x="601" y="342" width="5" height="11"/>
<rect x="602" y="343" width="3" height="9" fill="#fff"/>
<rect x="611" y="352" width="1" height="22"/>
<rect x="609" y="358" width="5" height="7"/>
<rect x="619" y="357" width="1" height="11"/>
<rect x="619" y="378" width="1" height="3"/>
<rect x="617" y="368" width="5" height="10"/>
<rect x="618" y="369" width="3" height="8" fill="#fff"/>
<rect x="627" y="374" width="1" height="22"/>
<rect x="625" y="376" width="5" height="18"/>
<rect x="635" y="378" width="1" height="23"/>
<rect x="633" y="386" width="5" height="8"/>
<rect x="643" y="376" width="1" height="1"/>
<rect x="641" y="377" width="5" height="21"/>
<rect x="642" y="378" width="3" height="19" fill="#fff"/>
<rect x="651" y="339" width="1" height="12"/>
<rect x="651" y="355" width="1" height="4"/>
<rect x="649" y="351" width="5" height="4"/>
<rect x="650" y="352" width="3" height="2" fill="#fff"/>
<rect x="659" y="342" width="1" height="3"/>
<rect x="659" y="355" width="1" height="2"/>
<rect x="657" y="345" width="5" height="10"/>
<rect x="658" y="346" width="3" height="8" fill="#fff"/>
<rect x="667" y="343" width="1" height="24"/>
<rect x="665" y="348" width="5" height="18"/>
<rect x="675" y="390" width="1" height="64"/>
<rect x="673" y="390" width="5" height="64"/>
<rect x="683" y="438" width="1" height="3"/>
<rect x="683" y="449" width="1" height="17"/>
<rect x="681" y="441" width="5" height="8"/>
<rect x="682" y="442" width="3" height="6" fill="#fff"/>
<rect x="691" y="405" width="1" height="7"/>
<rect x="689" y="412" width="5" height="15"/>
<rect x="690" y="413" width="3" height="13" fill="#fff"/>
<rect x="699" y="416" width="1" height="25"/>
<rect x="697" y="422" width="5" height="15"/>
<rect x="707" y="419" width="1" height="45"/>
<rect x="705" y="438" width="5" height="5"/>
<rect x="715" y="442" width="1" height="7"/>
<rect x="715" y="458" width="1" height="15"/>
<rect x="713" y="449" width="5" height="9"/>
<rect x="714" y="450" width="3" height="7" fill="#fff"/>
<rect x="723" y="393" width="1" height="15"/>
<rect x="721" y="408" width="5" height="18"/>
<rect x="722" y="409" width="3" height="16" fill="#fff"/>
<rect x="731" y="375" width="1" height="1"/>
<rect x="731" y="397" width="1" height="7"/>
<rect x="729" y="376" width="5" height="21"/>
<rect x="730" y="377" width="3" height="19" fill="#fff"/>
<rect x="739" y="350" width="1" height="19"/>
<rect x="737" y="350" width="5" height="9"/>
<rect x="747" y="336" width="1" height="30"/>
<rect x="745" y="338" width="5" height="18"/>
<rect x="755" y="324" width="1" height="5"/>
<rect x="755" y="358" width="1" height="4"/>
<rect x="753" y="329" width="5" height="29"/>
<rect x="754" y="330" width="3" height="27" fill="#fff"/>
<rect x="763" y="311" width="1" height="26"/>
<rect x="761" y="314" width="5" height="13"/>
<rect x="771" y="299" width="1" height="20"/>
<rect x="771" y="326" width="1" height="3"/>
<rect x="769" y="319" width="5" height="7"/>
<rect x="770" y="320" width="3" height="5" fill="#fff"/>
<rect x="779" y="294" width="1" height="25"/>
<rect x="777" y="309" width="5" height="1"/>
<rect x="787" y="309" width="1" height="45"/>
<rect x="785" y="316" width="5" height="36"/>
<rect x="795" y="358" width="1" height="2"/>
<rect x="795" y="380" width="1" height="7"/>
<rect x="793" y="360" width="5" height="20"/>
<rect x="794" y="361" width="3" height="18" fill="#fff"/>
<rect x="803" y="362" width="1" height="40"/>
<rect x="801" y="379" width="5" height="13"/>
<rect x="811" y="343" width="1" height="18"/>
<rect x="809" y="350" width="5" height="1"/>
<rect x="819" y="343" width="1" height="5"/>
<rect x="819" y="353" width="1" height="15"/>
<rect x="817" y="348" width="5" height="5"/>
<rect x="818" y="349" width="3" height="3" fill="#fff"/>
<rect x="827" y="346" width="1" height="5"/>
<rect x="827" y="357" width="1" height="15"/>
<rect x="825" y="351" width="5" height="6"/>
<rect x="826" y="352" width="3" height="4" fill="#fff"/>
<rect x="835" y="327" width="1" height="7"/>
<rect x="835" y="355" width="1" height="5"/>
<rect x="833" y="334" width="5" height="21"/>
<rect x="834" y="335" width="3" height="19" fill="#fff"/>
<rect x="843" y="333" width="1" height="12"/>
<rect x="841" y="345" width="5" height="6"/>
<rect x="842" y="346" width="3" height="4" fill="#fff"/>
<rect x="851" y="311" width="1" height="2"/>
<rect x="851" y="333" width="1" height="32"/>
<rect x="849" y="313" width="5" height="20"/>
<rect x="850" y="314" width="3" height="18" fill="#fff"/>
<rect x="859" y="313" width="1" height="31"/>
<rect x="857" y="317" width="5" height="25"/>
<rect x="867" y="336" width="1" height="15"/>
<rect x="865" y="351" width="5" height="5"/>
<rect x="866" y="352" width="3" height="3" fill="#fff"/>
<rect x="875" y="346" width="1" height="33"/>
<rect x="873" y="356" width="5" height="14"/>
<rect x="883" y="347" width="1" height="22"/>
<rect x="881" y="350" width="5" height="9"/>
<rect x="891" y="300" width="1" height="1"/>
<rect x="891" y="345" width="1" height="5"/>
<rect x="889" y="301" width="5" height="44"/>
<rect x="890" y="302" width="3" height="42" fill="#fff"/>
<rect x="899" y="284" width="1" height="8"/>
<rect x="897" y="292" width="5" height="15"/>
<rect x="898" y="293" width="3" height="13" fill="#fff"/>
<rect x="907" y="220" width="1" height="7"/>
<rect x="905" y="227" width="5" height="53"/>
<rect x="906" y="228" width="3" height="51" fill="#fff"/>
<rect x="915" y="199" width="1" height="53"/>
<rect x="913" y="209" width="5" height="43"/>
<rect x="923" y="227" width="1" height="29"/>
<rect x="921" y="241" width="5" height="4"/>
<rect x="931" y="224" width="1" height="26"/>
<rect x="929" y="230" width="5" height="5"/>
<rect x="939" y="237" width="1" height="40"/>
<rect x="937" y="246" width="5" height="23"/>
<rect x="947" y="241" width="1" height="25"/>
<rect x="945" y="258" width="5" height="8"/>
<rect x="955" y="268" width="1" height="28"/>
<rect x="953" y="270" width="5" height="9"/>
<rect x="963" y="254" width="1" height="38"/>
<rect x="961" y="262" width="5" height="19"/>
<rect x="971" y="271" width="1" height="48"/>
<rect x="969" y="274" width="5" height="43"/>
<rect x="979" y="294" width="1" height="17"/>
<rect x="977" y="301" width="5" height="1"/>
<rect x="987" y="297" width="1" height="32"/>
<rect x="985" y="310" width="5" height="1"/>
<rect x="995" y="270" width="1" height="2"/>
<rect x="995" y="288" width="1" height="2"/>
<rect x="993" y="272" width="5" height="16"/>
<rect x="994" y="273" width="3" height="14" fill="#fff"/>
<rect x="1003" y="261" width="1" height="51"/>
<rect x="1001" y="277" width="5" height="28"/>
<rect x="1011" y="290" width="1" height="6"/>
<rect x="1011" y="303" width="1" height="11"/>
<rect x="1009" y="296" width="5" height="7"/>
<rect x="1010" y="297" width="3" height="5" fill="#fff"/>
<rect x="1019" y="304" width="1" height="33"/>
<rect x="1017" y="310" width="5" height="21"/>
<rect x="1027" y="313" width="1" height="27"/>
<rect x="1025" y="316" width="5" height="18"/>
<rect x="1035" y="311" width="1" height="22"/>
<rect x="1033" y="314" width="5" height="12"/>
<rect x="1043" y="317" width="1" height="2"/>
<rect x="1043" y="330" width="1" height="4"/>
<rect x="1041" y="319" width="5" height="11"/>
<rect x="1042" y="320" width="3" height="9" fill="#fff"/>
<rect x="1051" y="298" width="1" height="43"/>
<rect x="1049" y="315" width="5" height="19"/>
<rect x="1059" y="314" width="1" height="30"/>
<rect x="1057" y="327" width="5" height="12"/>
<rect x="1067" y="335" width="1" height="26"/>
<rect x="1065" y="337" width="5" height="12"/>
<rect x="1075" y="306" width="1" height="8"/>
<rect x="1075" y="335" width="1" height="8"/>
<rect x="1073" y="314" width="5" height="21"/>
<rect x="1074" y="315" width="3" height="19" fill="#fff"/>
<rect x="1083" y="299" width="1" height="8"/>
<rect x="1083" y="315" width="1" height="7"/>
<rect x="1081" y="307" width="5" height="8"/>
<rect x="1082" y="308" width="3" height="6" fill="#fff"/>
<rect x="1091" y="296" width="1" height="41"/>
<rect x="1089" y="303" width="5" height="20"/>
<rect x="1099" y="315" width="1" height="50"/>
<rect x="1097" y="317" width="5" height="32"/>
<rect x="1107" y="341" width="1" height="7"/>
<rect x="1105" y="348" width="5" height="13"/>
<rect x="1106" y="349" width="3" height="11" fill="#fff"/>
<rect x="1115" y="308" width="1" height="9"/>
<rect x="1113" y="317" width="5" height="23"/>
<rect x="1114" y="318" width="3" height="21" fill="#fff"/>
<rect x="1123" y="291" width="1" height="4"/>
<rect x="1123" y="324" width="1" height="9"/>
<rect x="1121" y="295" width="5" height="29"/>
<rect x="1122" y="296" width="3" height="27" fill="#fff"/>
<rect x="1131" y="282" width="1" height="24"/>
<rect x="1129" y="286" width="5" height="18"/>
<rect x="1139" y="288" width="1" height="22"/>
<rect x="1137" y="302" width="5" height="5"/>
<rect x="1147" y="274" width="1" height="18"/>
<rect x="1147" y="300" width="1" height="3"/>
<rect x="1145" y="292" width="5" height="8"/>
<rect x="1146" y="293" width="3" height="6" fill="#fff"/>
<rect x="1155" y="283" width="1" height="16"/>
<rect x="1153" y="287" width="5" height="3"/>
<rect x="1163" y="289" width="1" height="20"/>
<rect x="1161" y="296" width="5" height="8"/>
<rect x="1171" y="310" width="1" height="30"/>
<rect x="1169" y="310" width="5" height="21"/>
<rect x="1179" y="298" width="1" height="8"/>
<rect x="1179" y="317" width="1" height="4"/>
<rect x="1177" y="306" width="5" height="11"/>
<rect x="1178" y="307" width="3" height="9" fill="#fff"/>
<rect x="1187" y="277" width="1" height="1"/>
<rect x="1185" y="278" width="5" height="20"/>
<rect x="1186" y="279" width="3" height="18" fill="#fff"/>
<rect x="1195" y="272" width="1" height="18"/>
<rect x="1193" y="275" width="5" height="9"/>
<rect x="1203" y="273" width="1" height="19"/>
<rect x="1201" y="277" width="5" height="8"/>
<rect x="1211" y="282" width="1" height="24"/>
<rect x="1209" y="282" width="5" height="22"/>
<rect x="1219" y="267" width="1" height="21"/>
<rect x="1219" y="303" width="1" height="2"/>
<rect x="1217" y="288" width="5" height="15"/>
<rect x="1218" y="289" width="3" height="13" fill="#fff"/>
<rect x="1227" y="261" width="1" height="51"/>
<rect x="1225" y="275" width="5" height="32"/>
<rect x="1235" y="297" width="1" height="24"/>
<rect x="1233" y="307" width="5" height="1"/>
<rect x="1243" y="299" width="1" height="24"/>
<rect x="1241" y="306" width="5" height="1"/>
<rect x="1251" y="299" width="1" height="26"/>
<rect x="1249" y="311" width="5" height="6"/>
<rect x="1259" y="323" width="1" height="25"/>
<rect x="1257" y="331" width="5" height="1"/>
<rect x="1267" y="318" width="1" height="29"/>
<rect x="1265" y="330" width="5" height="12"/>
<rect x="1275" y="325" width="1" height="31"/>
<rect x="1273" y="331" width="5" height="12"/>
<rect x="1283" y="343" width="1" height="3"/>
<rect x="1283" y="358" width="1" height="6"/>
<rect x="1281" y="346" width="5" height="12"/>
<rect x="1282" y="347" width="3" height="10" fill="#fff"/>
<rect x="1291" y="337" width="1" height="23"/>
<rect x="1289" y="337" width="5" height="23"/>
<rect x="1299" y="339" width="1" height="5"/>
<rect x="1299" y="356" width="1" height="4"/>
<rect x="1297" y="344" width="5" height="12"/>
<rect x="1298" y="345" width="3" height="10" fill="#fff"/>
<rect x="1307" y="327" width="1" height="15"/>
<rect x="1305" y="337" width="5" height="5"/>
<rect x="1315" y="324" width="1" height="2"/>
<rect x="1313" y="326" width="5" height="15"/>
<rect x="1314" y="327" width="3" height="13" fill="#fff"/>
<rect x="1323" y="320" width="1" height="17"/>
<rect x="1321" y="323" width="5" height="7"/>
<rect x="1331" y="330" width="1" height="32"/>
<rect x="1329" y="339" width="5" height="3"/>
<rect x="1339" y="345" width="1" height="12"/>
<rect x="1337" y="349" width="5" height="1"/>
<rect x="1347" y="336" width="1" height="47"/>
<rect x="1345" y="341" width="5" height="40"/>
<rect x="1355" y="379" width="1" height="17"/>
<rect x="1353" y="379" width="5" height="17"/>
<rect x="1363" y="387" width="1" height="18"/>
<rect x="1361" y="392" width="5" height="1"/>
<rect x="1371" y="400" width="1" height="25"/>
<rect x="1369" y="406" width="5" height="15"/>
<rect x="1379" y="405" width="1" height="25"/>
<rect x="1377" y="408" width="5" height="18"/>
<rect x="1387" y="405" width="1" height="5"/>
<rect x="1385" y="410" width="5" height="13"/>
<rect x="1386" y="411" width="3" height="11" fill="#fff"/>
<rect x="1395" y="398" width="1" height="26"/>
<rect x="1393" y="398" width="5" height="21"/>
<rect x="1403" y="387" width="1" height="29"/>
<rect x="1401" y="408" width="5" height="1"/>
<rect x="1411" y="375" width="1" height="21"/>
<rect x="1409" y="378" width="5" height="11"/>
<rect x="1419" y="374" width="1" height="2"/>
<rect x="1419" y="382" width="1" height="5"/>
<rect x="1417" y="376" width="5" height="6"/>
<rect x="1418" y="377" width="3" height="4" fill="#fff"/>
<rect x="1427" y="356" width="1" height="6"/>
<rect x="1425" y="362" width="5" height="18"/>
<rect x="1426" y="363" width="3" height="16" fill="#fff"/>
<rect x="1435" y="355" width="1" height="19"/>
<rect x="1433" y="360" width="5" height="8"/>
<rect x="1443" y="352" width="1" height="20"/>
<rect x="1441" y="355" width="5" height="17"/>
<rect x="1451" y="328" width="1" height="3"/>
<rect x="1451" y="363" width="1" height="1"/>
<rect x="1449" y="331" width="5" height="32"/>
<rect x="1450" y="332" width="3" height="30" fill="#fff"/>
</g>
</g>
<g clip-path="url(#cd)">
<g fill="#c0c0c0" shape-rendering="crispEdges">
<rect x="3" y="593" width="1" height="35"/>
<rect x="11" y="594" width="1" height="34"/>
<rect x="19" y="601" width="1" height="27"/>
<rect x="27" y="605" width="1" height="23"/>
<rect x="35" y="611" width="1" height="17"/>
<rect x="43" y="616" width="1" height="12"/>
<rect x="51" y="625" width="1" height="3"/>
<rect x="59" y="627" width="1" height="9"/>
<rect x="67" y="627" width="1" height="19"/>
<rect x="75" y="627" width="1" height="27"/>
<rect x="83" y="627" width="1" height="29"/>
<rect x="91" y="627" width="1" height="31"/>
<rect x="99" y="627" width="1" height="27"/>
<rect x="107" y="627" width="1" height="25"/>
<rect x="115" y="627" width="1" height="24"/>
<rect x="123" y="627" width="1" height="19"/>
<rect x="131" y="627" width="1" height="14"/>
<rect x="139" y="627" width="1" height="11"/>
<rect x="147" y="627" width="1" height="8"/>
<rect x="155" y="627" width="1" height="5"/>
<rect x="163" y="627" width="1" height="5"/>
<rect x="171" y="627" width="1" height="3"/>
<rect x="179" y="627" width="1" height="5"/>
<rect x="187" y="627" width="1" height="7"/>
<rect x="195" y="627" width="1" height="10"/>
<rect x="203" y="627" width="1" height="14"/>
<rect x="211" y="627" width="1" height="18"/>
<rect x="219" y="627" width="1" height="19"/>
<rect x="227" y="627" width="1" height="23"/>
<rect x="235" y="627" width="1" height="27"/>
<rect x="243" y="627" width="1" height="28"/>
<rect x="251" y="627" width="1" height="29"/>
<rect x="259" y="627" width="1" height="28"/>
<rect x="267" y="627" width="1" height="29"/>
<rect x="275" y="627" width="1" height="39"/>
<rect x="283" y="627" width="1" height="41"/>
<rect x="291" y="627" width="1" height="46"/>
<rect x="299" y="627" width="1" height="55"/>
<rect x="307" y="627" width="1" height="63"/>
<rect x="315" y="627" width="1" height="76"/>
<rect x="323" y="627" width="1" height="84"/>
<rect x="331" y="627" width="1" height="95"/>
<rect x="339" y="627" width="1" height="104"/>
<rect x="347" y="627" width="1" height="103"/>
<rect x="355" y="627" width="1" height="110"/>
<rect x="363" y="627" width="1" height="107"/>
<rect x="371" y="627" width="1" height="98"/>
<rect x="379" y="627" width="1" height="92"/>
<rect x="387" y="627" width="1" height="84"/>
<rect x="395" y="627" width="1" height="79"/>
<rect x="403" y="627" width="1" height="71"/>
<rect x="411" y="627" width="1" height="69"/>
<rect x="419" y="627" width="1" height="64"/>
<rect x="427" y="627" width="1" height="60"/>
<rect x="435" y="627" width="1" height="53"/>
<rect x="443" y="627" width="1" height="41"/>
<rect x="451" y="627" width="1" height="37"/>
<rect x="459" y="627" width="1" height="29"/>
<rect x="467" y="627" width="1" height="23"/>
<rect x="475" y="627" width="1" height="19"/>
<rect x="483" y="627" width="1" height="17"/>
<rect x="491" y="627" width="1" height="11"/>
<rect x="499" y="627" width="1" height="9"/>
<rect x="507" y="627" width="1" height="9"/>
<rect x="515" y="627" width="1" height="9"/>
<rect x="523" y="627" width="1" height="8"/>
<rect x="531" y="627" width="1" height="9"/>
<rect x="539" y="627" width="1" height="7"/>
<rect x="547" y="627" width="1" height="2"/>
<rect x="563" y="627" width="1" height="4"/>
<rect x="571" y="627" width="1" height="5"/>
<rect x="579" y="627" width="1" height="4"/>
<rect x="587" y="627" width="1" height="5"/>
<rect x="595" y="627" width="1" height="3"/>
<rect x="619" y="627" width="1" height="1"/>
<rect x="627" y="627" width="1" height="3"/>
<rect x="635" y="627" width="1" height="4"/>
<rect x="643" y="627" width="1" height="4"/>
<rect x="651" y="627" width="1" height="1"/>
<rect x="659" y="627" width="1" height="1"/>
<rect x="667" y="627" width="1" height="1"/>
<rect x="675" y="627" width="1" height="8"/>
<rect x="683" y="627" width="1" height="14"/>
<rect x="691" y="627" width="1" height="15"/>
<rect x="699" y="627" width="1" height="18"/>
<rect x="707" y="627" width="1" height="22"/>
<rect x="715" y="627" width="1" height="25"/>
<rect x="723" y="627" width="1" height="22"/>
<rect x="731" y="627" width="1" height="17"/>
<rect x="739" y="627" width="1" height="10"/>
<rect x="747" y="627" width="1" height="5"/>
<rect x="755" y="626" width="1" height="2"/>
<rect x="763" y="620" width="1" height="8"/>
<rect x="771" y="615" width="1" height="13"/>
<rect x="779" y="610" width="1" height="18"/>
<rect x="787" y="610" width="1" height="18"/>
<rect x="795" y="612" width="1" height="16"/>
<rect x="803" y="617" width="1" height="11"/>
<rect x="811" y="618" width="1" height="10"/>
<rect x="819" y="616" width="1" height="12"/>
<rect x="827" y="616" width="1" height="12"/>
<rect x="835" y="615" width="1" height="13"/>
<rect x="843" y="615" width="1" height="13"/>
<rect x="851" y="612" width="1" height="16"/>
<rect x="859" y="612" width="1" height="16"/>
<rect x="867" y="614" width="1" height="14"/>
<rect x="875" y="618" width="1" height="10"/>
<rect x="883" y="619" width="1" height="9"/>
<rect x="891" y="615" width="1" height="13"/>
<rect x="899" y="610" width="1" height="18"/>
<rect x="907" y="600" width="1" height="28"/>
<rect x="915" y="595" width="1" height="33"/>
<rect x="923" y="590" width="1" height="38"/>
<rect x="931" y="586" width="1" height="42"/>
<rect x="939" y="587" width="1" height="41"/>
<rect x="947" y="588" width="1" height="40"/>
<rect x="955" y="590" width="1" height="38"/>
<rect x="963" y="593" width="1" height="35"/>
<rect x="971" y="599" width="1" height="29"/>
<rect x="979" y="603" width="1" height="25"/>
<rect x="987" y="607" width="1" height="21"/>
<rect x="995" y="607" width="1" height="21"/>
<rect x="1003" y="610" width="1" height="18"/>
<rect x="1011" y="612" width="1" height="16"/>
<rect x="1019" y="617" width="1" height="11"/>
<rect x="1027" y="622" width="1" height="6"/>
<rect x="1035" y="625" width="1" height="3"/>
<rect x="1043" y="626" width="1" height="2"/>
<rect x="1059" y="627" width="1" height="4"/>
<rect x="1067" y="627" width="1" height="7"/>
<rect x="1075" y="627" width="1" height="6"/>
<rect x="1083" y="627" width="1" height="4"/>
<rect x="1091" y="627" width="1" height="4"/>
<rect x="1099" y="627" width="1" height="7"/>
<rect x="1107" y="627" width="1" height="9"/>
<rect x="1115" y="627" width="1" height="7"/>
<rect x="1123" y="627" width="1" height="4"/>
<rect x="1147" y="625" width="1" height="3"/>
<rect x="1155" y="623" width="1" height="5"/>
<rect x="1163" y="623" width="1" height="5"/>
<rect x="1171" y="626" width="1" height="2"/>
<rect x="1179" y="625" width="1" height="3"/>
<rect x="1187" y="623" width="1" height="5"/>
<rect x="1195" y="620" width="1" height="8"/>
<rect x="1203" y="619" width="1" height="9"/>
<rect x="1211" y="620" width="1" height="8"/>
<rect x="1219" y="619" width="1" height="9"/>
<rect x="1227" y="621" width="1" height="7"/>
<rect x="1235" y="623" width="1" height="5"/>
<rect x="1243" y="623" width="1" height="5"/>
<rect x="1251" y="625" width="1" height="3"/>
<rect x="1267" y="627" width="1" height="3"/>
<rect x="1275" y="627" width="1" height="7"/>
<rect x="1283" y="627" width="1" height="9"/>
<rect x="1291" y="627" width="1" height="13"/>
<rect x="1299" y="627" width="1" height="13"/>
<rect x="1307" y="627" width="1" height="13"/>
<rect x="1315" y="627" width="1" height="12"/>
<rect x="1323" y="627" width="1" height="11"/>
<rect x="1331" y="627" width="1" height="11"/>
<rect x="1339" y="627" width="1" height="14"/>
<rect x="1347" y="627" width="1" height="17"/>
<rect x="1355" y="627" width="1" height="21"/>
<rect x="1363" y="627" width="1" height="23"/>
<rect x="1371" y="627" width="1" height="27"/>
<rect x="1379" y="627" width="1" height="32"/>
<rect x="1387" y="627" width="1" height="31"/>
<rect x="1395" y="627" width="1" height="34"/>
<rect x="1403" y="627" width="1" height="35"/>
<rect x="1411" y="627" width="1" height="31"/>
<rect x="1419" y="627" width="1" height="26"/>
<rect x="1427" y="627" width="1" height="23"/>
<rect x="1435" y="627" width="1" height="19"/>
<rect x="1443" y="627" width="1" height="15"/>
<rect x="1451" y="627" width="1" height="10"/>
</g>
<polyline points="0.0,592.3 18.0,593.2 32.5,595.0 43.4,598.6 52.4,602.7 63.3,610.3 75.9,620.3 88.6,631.1 99.4,639.3 110.2,646.5 119.3,649.2 130.1,651.5 141.0,649.7 151.8,647.9 162.7,643.8 173.5,639.6 182.5,637.4 195.2,635.3 209.6,636.0 220.5,637.8 229.5,639.3 236.0,641.1 246.8,645.6 259.5,649.2 275.8,654.6 284.8,657.7 295.6,662.4 308.3,668.2 315.5,673.6 326.4,681.7 337.2,693.5 348.1,703.4 358.9,713.4 369.7,719.7 380.6,724.6 386.0,725.6 395.0,724.6 405.9,721.5 416.7,716.1 427.6,709.7 438.4,700.7 449.3,692.6 460.1,684.4 469.1,677.2 476.0,670.9 482.8,665.5 493.7,658.2 504.5,651.0 517.2,644.7 529.8,640.2 540.7,637.4 553.3,634.7 562.4,633.5 580.4,632.8 598.5,631.1 609.4,629.7 634.7,629.7 652.7,629.3 660.0,628.4 670.8,628.8 679.8,629.9 688.9,632.4 699.7,634.7 708.0,636.5 715.2,638.4 726.1,641.4 738.7,644.3 749.6,643.2 762.2,639.3 773.1,633.8 783.9,628.4 794.8,622.6 805.6,618.5 816.4,616.1 827.3,614.0 852.6,613.1 888.7,614.3 896.0,613.6 906.8,612.1 917.6,608.5 928.5,604.6 939.3,601.3 944.0,599.1 954.8,595.0 965.7,591.9 980.1,591.5 989.2,594.1 1003.6,597.3 1016.3,602.2 1028.9,608.2 1041.6,613.1 1054.2,617.2 1070.5,624.4 1085.0,626.6 1099.4,630.2 1112.1,631.7 1124.7,633.5 1142.8,632.4 1160.9,629.3 1171.7,628.4 1184.0,625.2 1191.8,624.6 1205.5,622.1 1219.2,621.5 1232.9,620.7 1254.5,620.7 1270.1,622.6 1283.9,626.0 1297.6,630.5 1313.3,634.8 1328.9,637.1 1346.6,639.7 1366.2,642.6 1383.8,648.5 1395.6,652.8 1411.2,656.3 1426.9,658.3 1438.7,656.7 1449.4,655.4" fill="none" stroke="#ff0000" stroke-width="1" stroke-dasharray="3,3" shape-rendering="crispEdges"/>
</g>
<g clip-path="url(#cr)">
<g stroke="#c0c0c0" stroke-width="1" stroke-dasharray="3,3" shape-rendering="crispEdges">
<line x1="2" y1="784.5" x2="1688" y2="784.5"/>
<line x1="2" y1="835.5" x2="1688" y2="835.5"/>
<line x1="2" y1="896.5" x2="1688" y2="896.5"/>
</g>
<polyline points="0.0,806.8 3.5,806.8 11.5,821.0 19.5,842.3 27.5,833.4 35.5,843.2 43.5,842.7 51.5,857.1 59.5,867.3 67.5,868.2 75.5,869.5 83.5,853.4 91.5,854.3 99.5,839.2 107.5,841.4 115.5,845.1 123.5,834.0 131.5,830.3 139.5,833.4 147.5,831.2 155.5,829.4 163.5,839.2 171.5,835.8 179.5,840.1 187.5,844.2 195.5,855.3 203.5,852.5 211.5,856.2 219.5,852.5 227.5,862.3 235.5,858.6 243.5,857.5 251.5,860.4 259.5,843.2 267.5,857.1 275.5,872.8 283.5,858.6 291.5,861.7 299.5,873.4 307.5,874.7 315.5,883.0 323.5,877.5 331.5,883.4 339.5,884.5 347.5,861.7 355.5,873.4 363.5,856.2 371.5,846.4 379.5,849.4 387.5,846.4 395.5,850.1 403.5,842.7 411.5,849.4 419.5,845.7 427.5,846.4 435.5,839.5 443.5,831.2 451.5,839.0 459.5,834.6 467.5,831.2 475.5,835.8 483.5,837.7 491.5,832.7 499.5,833.4 507.5,840.5 515.5,838.6 523.5,837.7 531.5,841.4 539.5,832.7 547.5,827.5 555.5,829.0 563.5,846.0 571.5,840.5 579.5,836.4 587.5,838.6 595.5,834.0 603.5,828.5 611.5,834.0 619.5,835.3 627.5,842.3 635.5,842.3 643.5,838.3 651.5,830.3 659.5,828.5 667.5,834.0 675.5,856.2 683.5,853.0 691.5,844.5 699.5,849.4 707.5,850.1 715.5,852.5 723.5,839.0 731.5,831.2 739.5,826.6 747.5,825.3 755.5,819.2 763.5,819.2 771.5,817.4 779.5,814.2 787.5,829.0 795.5,832.7 803.5,842.3 811.5,830.3 819.5,829.4 827.5,830.3 835.5,825.3 843.5,829.0 851.5,820.5 859.5,829.4 867.5,834.0 875.5,839.0 883.5,834.9 891.5,819.2 899.5,817.4 907.5,804.4 915.5,812.4 923.5,811.3 931.5,809.4 939.5,821.6 947.5,820.5 955.5,825.3 963.5,826.6 971.5,838.3 979.5,833.4 987.5,836.4 995.5,825.7 1003.5,835.3 1011.5,832.7 1019.5,843.2 1027.5,844.2 1035.5,841.4 1043.5,839.5 1051.5,843.2 1059.5,845.1 1067.5,848.8 1075.5,834.9 1083.5,832.7 1091.5,838.3 1099.5,847.5 1107.5,846.4 1115.5,834.9 1123.5,827.5 1131.5,830.3 1139.5,831.2 1147.5,826.6 1155.5,825.7 1163.5,831.2 1171.5,843.2 1179.5,834.0 1187.5,823.5 1195.5,825.3 1203.5,825.3 1211.5,834.0 1219.5,828.5 1227.5,836.4 1235.5,836.4 1243.5,836.4 1251.5,840.1 1259.5,846.9 1267.5,851.2 1275.5,852.5 1283.5,853.8 1291.5,859.0 1299.5,849.4 1307.5,846.4 1315.5,838.6 1323.5,839.0 1331.5,851.2 1339.5,846.4 1347.5,861.2 1355.5,866.0 1363.5,864.1 1371.5,871.9 1379.5,874.7 1387.5,863.6 1395.5,864.9 1403.5,858.6 1411.5,846.9 1419.5,841.4 1427.5,834.0 1435.5,835.8 1443.5,837.7 1451.5,821.6" fill="none" stroke="#1e90ff" stroke-width="1" shape-rendering="crispEdges"/>
</g>
<g clip-path="url(#cm)"><line x1="1316.0" y1="331.0" x2="1373.7" y2="411.9" stroke="#ff0000" stroke-width="3.3"/><polygon points="1379.5,420.0 1368.1,413.4 1377.0,407.0" fill="#ff0000"/>
<line x1="1379.5" y1="420.0" x2="1473.8" y2="316.4" stroke="#ff0000" stroke-width="3.3"/><polygon points="1480.5,309.0 1476.5,321.6 1468.4,314.2" fill="#ff0000"/>
<rect x="1298" y="340" width="186" height="9" fill="#00ee00"/>
<text x="1469.5" y="381.5" font-size="21" fill="#00ff00" textLength="112" lengthAdjust="spacingAndGlyphs" font-family="'Liberation Sans', 'Noto Sans CJK SC', sans-serif">多空转折点</text></g>
<g clip-path="url(#cd)"><line x1="1291.5" y1="622.0" x2="1394.2" y2="661.9" stroke="#ff0000" stroke-width="3.3"/><polygon points="1403.5,665.5 1390.3,666.3 1394.3,656.0" fill="#ff0000"/>
<line x1="1403.5" y1="665.5" x2="1489.5" y2="623.4" stroke="#ff0000" stroke-width="3.3"/><polygon points="1498.5,619.0 1490.1,629.2 1485.3,619.3" fill="#ff0000"/>
<text x="0" y="589" font-size="10" fill="#000" stroke="#000" stroke-width="0.15" textLength="133" lengthAdjust="spacingAndGlyphs">MACD(12,26,9) -132.55 -317.00</text></g>
<g clip-path="url(#cr)"><line x1="1383.5" y1="873.0" x2="1451.0" y2="831.7" stroke="#ff0000" stroke-width="3.3"/><polygon points="1459.5,826.5 1452.1,837.5 1446.4,828.1" fill="#ff0000"/>
<text x="0" y="761" font-size="10" fill="#000" stroke="#000" stroke-width="0.15" textLength="66.5" lengthAdjust="spacingAndGlyphs">RSI(14) 58.7771</text></g>
<rect x="844.5" y="190.5" width="61" height="18" fill="#fff" stroke="#ff0000" stroke-width="1"/>
<text x="845.5" y="205.7" font-size="16.6" fill="#ff0000" textLength="59.5" lengthAdjust="spacingAndGlyphs">26775.7</text>
<rect x="906.5" y="197.5" width="2" height="3" fill="#fff" stroke="#ff0000"/>
<rect x="909" y="199" width="6" height="1" fill="#ff0000"/>
<rect x="708.5" y="286.5" width="61" height="18" fill="#fff" stroke="#ff0000" stroke-width="1"/>
<text x="710" y="302.3" font-size="16.6" fill="#ff0000" textLength="58.5" lengthAdjust="spacingAndGlyphs">25234.2</text>
<rect x="770.5" y="293.5" width="2" height="3" fill="#fff" stroke="#ff0000"/>
<rect x="773" y="295" width="6" height="1" fill="#ff0000"/>
<rect x="1238.5" y="252.5" width="60" height="18" fill="#fff" stroke="#ff0000" stroke-width="1"/>
<text x="1239.3" y="268.1" font-size="16.6" fill="#ff0000" textLength="59" lengthAdjust="spacingAndGlyphs">25785.8</text>
<rect x="1227" y="261" width="11" height="1" fill="#ff0000"/>
<rect x="1182.5" y="335.5" width="73" height="24" fill="#fff" stroke="#ff0000" stroke-width="1"/>
<text x="1183.2" y="356.2" font-size="22.6" fill="#ff0000" textLength="72" lengthAdjust="spacingAndGlyphs">24399.2</text>
<rect x="1172" y="347" width="7" height="1" fill="#ff0000"/>
<rect x="1179.5" y="345.5" width="2" height="3" fill="#fff" stroke="#ff0000"/>
<rect x="1308.5" y="418.5" width="61" height="18" fill="#fff" stroke="#ff0000" stroke-width="1"/>
<text x="1310.5" y="434.2" font-size="16.6" fill="#ff0000" textLength="58.5" lengthAdjust="spacingAndGlyphs">23117.2</text>
<rect x="1370" y="427" width="9" height="1" fill="#ff0000"/>
<polygon points="0,32 5,32 2.5,27.5" fill="#000"/>
<text x="10.5" y="33" font-size="10" letter-spacing="-0.5" fill="#000" stroke="#000" stroke-width="0.15" >HK50-,Daily</text>
<text x="67" y="33" font-size="10" letter-spacing="-0.5" fill="#000" stroke="#000" stroke-width="0.15" >24167.0</text>
<text x="103" y="33" font-size="10" letter-spacing="-0.5" fill="#000" stroke="#000" stroke-width="0.15" >24707.0</text>
<text x="139.3" y="33" font-size="10" letter-spacing="-0.5" fill="#000" stroke="#000" stroke-width="0.15" >24150.0</text>
<text x="175" y="33" font-size="10" letter-spacing="-0.5" fill="#000" stroke="#000" stroke-width="0.15" >24663.0</text>
<rect x="1689" y="43" width="3" height="1" fill="#000"/>
<text x="1694" y="47" font-size="10" letter-spacing="-0.5" fill="#000" stroke="#000" stroke-width="0.15" >29282.0</text>
<rect x="1689" y="76" width="3" height="1" fill="#000"/>
<text x="1694" y="80" font-size="10" letter-spacing="-0.5" fill="#000" stroke="#000" stroke-width="0.15" >28754.0</text>
<rect x="1689" y="109" width="3" height="1" fill="#000"/>
<text x="1694" y="113" font-size="10" letter-spacing="-0.5" fill="#000" stroke="#000" stroke-width="0.15" >28226.0</text>
<rect x="1689" y="142" width="3" height="1" fill="#000"/>
<text x="1694" y="146" font-size="10" letter-spacing="-0.5" fill="#000" stroke="#000" stroke-width="0.15" >27698.0</text>
<rect x="1689" y="175" width="3" height="1" fill="#000"/>
<text x="1694" y="179" font-size="10" letter-spacing="-0.5" fill="#000" stroke="#000" stroke-width="0.15" >27170.0</text>
<rect x="1689" y="208" width="3" height="1" fill="#000"/>
<text x="1694" y="212" font-size="10" letter-spacing="-0.5" fill="#000" stroke="#000" stroke-width="0.15" >26626.0</text>
<rect x="1689" y="241" width="3" height="1" fill="#000"/>
<text x="1694" y="245" font-size="10" letter-spacing="-0.5" fill="#000" stroke="#000" stroke-width="0.15" >26098.0</text>
<rect x="1689" y="274" width="3" height="1" fill="#000"/>
<text x="1694" y="278" font-size="10" letter-spacing="-0.5" fill="#000" stroke="#000" stroke-width="0.15" >25570.0</text>
<rect x="1689" y="307" width="3" height="1" fill="#000"/>
<rect x="1689" y="340" width="3" height="1" fill="#000"/>
<text x="1694" y="344" font-size="10" letter-spacing="-0.5" fill="#000" stroke="#000" stroke-width="0.15" >24514.0</text>
<rect x="1689" y="373" width="3" height="1" fill="#000"/>
<text x="1694" y="377" font-size="10" letter-spacing="-0.5" fill="#000" stroke="#000" stroke-width="0.15" >23986.0</text>
<rect x="1689" y="406" width="3" height="1" fill="#000"/>
<text x="1694" y="410" font-size="10" letter-spacing="-0.5" fill="#000" stroke="#000" stroke-width="0.15" >23442.0</text>
<rect x="1689" y="439" width="3" height="1" fill="#000"/>
<text x="1694" y="443" font-size="10" letter-spacing="-0.5" fill="#000" stroke="#000" stroke-width="0.15" >22914.0</text>
<rect x="1689" y="472" width="3" height="1" fill="#000"/>
<text x="1694" y="476" font-size="10" letter-spacing="-0.5" fill="#000" stroke="#000" stroke-width="0.15" >22386.0</text>
<rect x="1689" y="506" width="3" height="1" fill="#000"/>
<text x="1694" y="510" font-size="10" letter-spacing="-0.5" fill="#000" stroke="#000" stroke-width="0.15" >21858.0</text>
<rect x="1689" y="539" width="3" height="1" fill="#000"/>
<text x="1694" y="543" font-size="10" letter-spacing="-0.5" fill="#000" stroke="#000" stroke-width="0.15" >21330.0</text>
<rect x="1689" y="572" width="3" height="1" fill="#000"/>
<text x="1694" y="576" font-size="10" letter-spacing="-0.5" fill="#000" stroke="#000" stroke-width="0.15" >20802.0</text>
<rect x="1690" y="284" width="41" height="11" fill="#ff0000"/>
<text x="1694" y="293" font-size="10" letter-spacing="-0.5" fill="#fff" stroke="#fff" stroke-width="0.15" >25330.5</text>
<rect x="1690" y="305" width="41" height="11" fill="#ff0000"/>
<text x="1694" y="314" font-size="10" letter-spacing="-0.5" fill="#fff" stroke="#fff" stroke-width="0.15" >24993.3</text>
<rect x="1690" y="326" width="41" height="11" fill="#000000"/>
<text x="1694" y="335" font-size="10" letter-spacing="-0.5" fill="#fff" stroke="#fff" stroke-width="0.15" >24663.0</text>
<rect x="1690" y="342" width="41" height="11" fill="#32cd32"/>
<text x="1694" y="351" font-size="10" letter-spacing="-0.5" fill="#fff" stroke="#fff" stroke-width="0.15" >24399.2</text>
<rect x="1690" y="363" width="41" height="11" fill="#0000ff"/>
<text x="1694" y="372" font-size="10" letter-spacing="-0.5" fill="#fff" stroke="#fff" stroke-width="0.15" >24061.9</text>
<rect x="1690" y="384" width="41" height="11" fill="#0000ff"/>
<text x="1694" y="393" font-size="10" letter-spacing="-0.5" fill="#fff" stroke="#fff" stroke-width="0.15" >23724.7</text>
<rect x="1689" y="578" width="3" height="1" fill="#000"/>
<text x="1692" y="588" font-size="10" letter-spacing="-0.5" fill="#000" stroke="#000" stroke-width="0.15" >596.11</text>
<rect x="1689" y="627" width="3" height="1" fill="#000"/>
<text x="1692" y="632" font-size="10" letter-spacing="-0.5" fill="#000" stroke="#000" stroke-width="0.15" >0.00</text>
<rect x="1689" y="745" width="3" height="1" fill="#000"/>
<text x="1692" y="744" font-size="10" letter-spacing="-0.5" fill="#000" stroke="#000" stroke-width="0.15" >-1415.19</text>
<rect x="1689" y="750" width="3" height="1" fill="#000"/>
<text x="1692" y="759" font-size="10" letter-spacing="-0.5" fill="#000" stroke="#000" stroke-width="0.15" >100</text>
<text x="1691" y="788" font-size="10" letter-spacing="-0.5" fill="#000" stroke="#000" stroke-width="0.15" >80</text>
<text x="1691" y="839" font-size="10" letter-spacing="-0.5" fill="#000" stroke="#000" stroke-width="0.15" >50</text>
<text x="1691" y="900" font-size="10" letter-spacing="-0.5" fill="#000" stroke="#000" stroke-width="0.15" >15</text>
<text x="1691" y="919" font-size="10" letter-spacing="-0.5" fill="#000" stroke="#000" stroke-width="0.15" >0</text>
<rect x="1689" y="921" width="3" height="1" fill="#000"/>
<text x="-6" y="935" font-size="10" letter-spacing="-0.5" fill="#000" stroke="#000" stroke-width="0.15" >16 Jan 2020</text>
<rect x="59" y="923" width="1" height="3" fill="#000"/>
<text x="58" y="935" font-size="10" letter-spacing="-0.5" fill="#000" stroke="#000" stroke-width="0.15" >30 Jan 2020</text>
<rect x="123" y="923" width="1" height="3" fill="#000"/>
<text x="122" y="935" font-size="10" letter-spacing="-0.5" fill="#000" stroke="#000" stroke-width="0.15" >11 Feb 2020</text>
<rect x="187" y="923" width="1" height="3" fill="#000"/>
<text x="186" y="935" font-size="10" letter-spacing="-0.5" fill="#000" stroke="#000" stroke-width="0.15" >21 Feb 2020</text>
<rect x="251" y="923" width="1" height="3" fill="#000"/>
<text x="250" y="935" font-size="10" letter-spacing="-0.5" fill="#000" stroke="#000" stroke-width="0.15" >4 Mar 2020</text>
<rect x="315" y="923" width="1" height="3" fill="#000"/>
<text x="314" y="935" font-size="10" letter-spacing="-0.5" fill="#000" stroke="#000" stroke-width="0.15" >16 Mar 2020</text>
<rect x="379" y="923" width="1" height="3" fill="#000"/>
<text x="378" y="935" font-size="10" letter-spacing="-0.5" fill="#000" stroke="#000" stroke-width="0.15" >26 Mar 2020</text>
<rect x="443" y="923" width="1" height="3" fill="#000"/>
<text x="442" y="935" font-size="10" letter-spacing="-0.5" fill="#000" stroke="#000" stroke-width="0.15" >7 Apr 2020</text>
<rect x="507" y="923" width="1" height="3" fill="#000"/>
<text x="506" y="935" font-size="10" letter-spacing="-0.5" fill="#000" stroke="#000" stroke-width="0.15" >21 Apr 2020</text>
<rect x="571" y="923" width="1" height="3" fill="#000"/>
<text x="570" y="935" font-size="10" letter-spacing="-0.5" fill="#000" stroke="#000" stroke-width="0.15" >5 May 2020</text>
<rect x="635" y="923" width="1" height="3" fill="#000"/>
<text x="634" y="935" font-size="10" letter-spacing="-0.5" fill="#000" stroke="#000" stroke-width="0.15" >15 May 2020</text>
<rect x="699" y="923" width="1" height="3" fill="#000"/>
<text x="698" y="935" font-size="10" letter-spacing="-0.5" fill="#000" stroke="#000" stroke-width="0.15" >27 May 2020</text>
<rect x="763" y="923" width="1" height="3" fill="#000"/>
<text x="762" y="935" font-size="10" letter-spacing="-0.5" fill="#000" stroke="#000" stroke-width="0.15" >8 Jun 2020</text>
<rect x="827" y="923" width="1" height="3" fill="#000"/>
<text x="826" y="935" font-size="10" letter-spacing="-0.5" fill="#000" stroke="#000" stroke-width="0.15" >18 Jun 2020</text>
<rect x="891" y="923" width="1" height="3" fill="#000"/>
<text x="890" y="935" font-size="10" letter-spacing="-0.5" fill="#000" stroke="#000" stroke-width="0.15" >2 Jul 2020</text>
<rect x="955" y="923" width="1" height="3" fill="#000"/>
<text x="954" y="935" font-size="10" letter-spacing="-0.5" fill="#000" stroke="#000" stroke-width="0.15" >14 Jul 2020</text>
<rect x="1019" y="923" width="1" height="3" fill="#000"/>
<text x="1018" y="935" font-size="10" letter-spacing="-0.5" fill="#000" stroke="#000" stroke-width="0.15" >24 Jul 2020</text>
<rect x="1083" y="923" width="1" height="3" fill="#000"/>
<text x="1082" y="935" font-size="10" letter-spacing="-0.5" fill="#000" stroke="#000" stroke-width="0.15" >5 Aug 2020</text>
<rect x="1147" y="923" width="1" height="3" fill="#000"/>
<text x="1146" y="935" font-size="10" letter-spacing="-0.5" fill="#000" stroke="#000" stroke-width="0.15" >17 Aug 2020</text>
<rect x="1211" y="923" width="1" height="3" fill="#000"/>
<text x="1210" y="935" font-size="10" letter-spacing="-0.5" fill="#000" stroke="#000" stroke-width="0.15" >27 Aug 2020</text>
<rect x="1275" y="923" width="1" height="3" fill="#000"/>
<text x="1274" y="935" font-size="10" letter-spacing="-0.5" fill="#000" stroke="#000" stroke-width="0.15" >8 Sep 2020</text>
<rect x="1339" y="923" width="1" height="3" fill="#000"/>
<text x="1338" y="935" font-size="10" letter-spacing="-0.5" fill="#000" stroke="#000" stroke-width="0.15" >18 Sep 2020</text>
<rect x="1403" y="923" width="1" height="3" fill="#000"/>
<text x="1402" y="935" font-size="10" letter-spacing="-0.5" fill="#000" stroke="#000" stroke-width="0.15" >30 Sep 2020</text>
</svg>
<div class="abs" style="left:0;top:41px;width:217px;height:64px">
<div class="abs" style="left:0;top:0;width:49px;height:24px;background:linear-gradient(#f65a5e,#e03236);border-top:1px solid #b00000;box-sizing:border-box"></div>
<div class="abs" style="left:165px;top:0;width:52px;height:24px;background:linear-gradient(#f65a5e,#e03236);border:1px solid #b00000;border-bottom:none;box-sizing:border-box"></div>
<div class="abs" style="left:49px;top:0;width:116px;height:24px;background:#fff"></div>
<div class="abs" style="left:52px;top:1px;width:111px;height:21px;border:1px solid #a8a8a8;box-sizing:border-box;background:#fff"></div>
<div class="abs" style="left:53px;top:2px;width:20px;height:19px;background:linear-gradient(#f2f2f2,#d4d4d4);border-right:1px solid #b8b8b8"></div>
<div class="abs" style="left:142px;top:2px;width:20px;height:19px;background:linear-gradient(#f2f2f2,#d4d4d4);border-left:1px solid #b8b8b8"></div>
<div class="abs" style="left:0;top:24px;width:107px;height:40px;background:linear-gradient(#e43a3e,#b40000);"></div>
<div class="abs" style="left:109px;top:24px;width:108px;height:40px;background:linear-gradient(#e43a3e,#b40000);"></div>
<div class="abs" style="left:2px;top:22px;width:44px;height:1px;background:#8a0000"></div>
<div class="abs" style="left:2px;top:23px;width:44px;height:1px;background:#ff8a8a"></div>
<div class="abs" style="left:169px;top:22px;width:44px;height:1px;background:#8a0000"></div>
<div class="abs" style="left:169px;top:23px;width:44px;height:1px;background:#ff8a8a"></div>
</div>
<svg class="abs" style="left:0;top:0" width="220" height="110" viewBox="0 0 220 110"><text x="10" y="56.8" font-size="12" fill="#fff" textLength="26.5" lengthAdjust="spacingAndGlyphs">SELL</text>
<text x="178.5" y="56.8" font-size="12" fill="#fff" textLength="24" lengthAdjust="spacingAndGlyphs">BUY</text>
<text x="137.5" y="56" font-size="12.8" fill="#000" text-anchor="end">1.00</text>
<polygon points="60,50.5 65,50.5 62.5,53" fill="#5068c8"/>
<polygon points="149.5,53 154.5,53 152,50.5" fill="#5068c8"/>
<text x="14" y="96" font-size="12.6" font-weight="bold" fill="#fff">24661</text>
<text x="51.8" y="96" font-size="33" fill="#fff">.</text>
<text x="60.5" y="96" font-size="33" fill="#fff" textLength="15" lengthAdjust="spacingAndGlyphs">5</text>
<text x="123" y="96" font-size="12.6" font-weight="bold" fill="#fff">24679</text>
<text x="163.2" y="96" font-size="33" fill="#fff">.</text>
<text x="170.8" y="96" font-size="33" fill="#fff" textLength="16" lengthAdjust="spacingAndGlyphs">5</text></svg>
</body></html>
